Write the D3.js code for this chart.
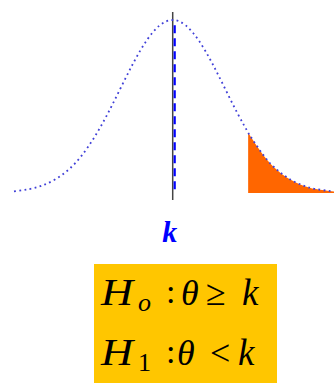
<!DOCTYPE html>
<html>
<head>
<meta charset="utf-8">
<script src="https://cdn.jsdelivr.net/npm/d3@7"></script>
<style>
html,body{margin:0;padding:0;background:#fff;}
svg{display:block;}
</style>
</head>
<body>
<svg id="chart" width="334" height="383"></svg>
<script>
// Standardized positions along the axis (z) and relative curve heights
const zValues  = [-3.05,-2.75,-2.5,-2.25,-2.0,-1.75,-1.5,-1.25,-1.0,-0.75,-0.5,-0.25,0,0.25,0.5,0.75,1.0,1.25,1.45,1.5,1.75,2.0,2.25,2.5,2.75,3.1];
const heights  = [0.010,0.023,0.044,0.080,0.135,0.216,0.325,0.458,0.607,0.755,0.882,0.969,1.0,0.969,0.882,0.755,0.607,0.458,0.349,0.325,0.216,0.135,0.080,0.044,0.023,0.008];
const criticalZ = 1.45;   // start of the shaded rejection region
const centerZ = 0;        // k
const centerLabel = "k";
const hypotheses = [
  {H: "H", sub: "o", rel: "≥"},
  {H: "H", sub: "1", rel: "<"}
];

const svg = d3.select("#chart");
const x = d3.scaleLinear().domain([-3.05, 3.1]).range([14, 334]);
const y = d3.scaleLinear().domain([0, 1]).range([193, 20]);

const pts = zValues.map((z, i) => ({z, h: heights[i]}));

// shaded tail
const tail = pts.filter(d => d.z >= criticalZ);
const area = d3.area().x(d => x(d.z)).y0(y(0)).y1(d => y(d.h)).curve(d3.curveNatural);
svg.append("path").datum(tail).attr("d", area).attr("fill", "#ff6600");

// center vertical line
svg.append("line")
  .attr("x1", x(centerZ)).attr("x2", x(centerZ))
  .attr("y1", 12).attr("y2", 200)
  .attr("stroke", "#444").attr("stroke-width", 1.5);

// dashed blue line
svg.append("line")
  .attr("x1", x(centerZ) + 2).attr("x2", x(centerZ) + 2)
  .attr("y1", y(0.97)).attr("y2", y(0.02))
  .attr("stroke", "#0000ff").attr("stroke-width", 2.2)
  .attr("stroke-dasharray", "8,5");

// dotted curve
const line = d3.line().x(d => x(d.z)).y(d => y(d.h)).curve(d3.curveNatural);
svg.append("path").datum(pts).attr("d", line)
  .attr("fill", "none").attr("stroke", "#4040d8").attr("stroke-width", 1.8)
  .attr("stroke-dasharray", "1.8,3.4").attr("stroke-linecap", "butt");

// k label
svg.append("text")
  .attr("x", x(centerZ) - 3).attr("y", 242)
  .attr("text-anchor", "middle")
  .attr("font-family", "Liberation Serif, Times New Roman, serif")
  .attr("font-style", "italic").attr("font-weight", "bold")
  .attr("font-size", 30).attr("fill", "#0000ff")
  .text(centerLabel);

// hypothesis box
svg.append("rect").attr("x", 94).attr("y", 264).attr("width", 183).attr("height", 119)
  .attr("fill", "#ffc600");

const fam = "Liberation Serif, Times New Roman, serif";
hypotheses.forEach((hyp, i) => {
  const base = 305 + i * 60;
  const g = svg.append("g").attr("font-family", fam).attr("fill", "#000").attr("font-style", "italic");
  g.append("text").attr("transform", `translate(101,${base}) scale(1.2,1)`).attr("font-size", 37).text(hyp.H);
  g.append("text").attr("x", 138).attr("y", base + 6).attr("font-size", 26).attr("font-style", i === 0 ? "italic" : "normal").text(hyp.sub);
  g.append("text").attr("x", 166).attr("y", base - 2).attr("font-size", 34).attr("font-style", "normal").text(":");
  g.append("text").attr("x", i === 0 ? 181 : 177).attr("y", base).attr("font-size", 36).text("θ");
  g.append("text").attr("x", i === 0 ? 206 : 210).attr("y", base).attr("font-size", 36).attr("font-style", "normal").text(hyp.rel);
  g.append("text").attr("x", i === 0 ? 242 : 238).attr("y", base).attr("font-size", 37).text(centerLabel);
});
</script>
</body>
</html>
